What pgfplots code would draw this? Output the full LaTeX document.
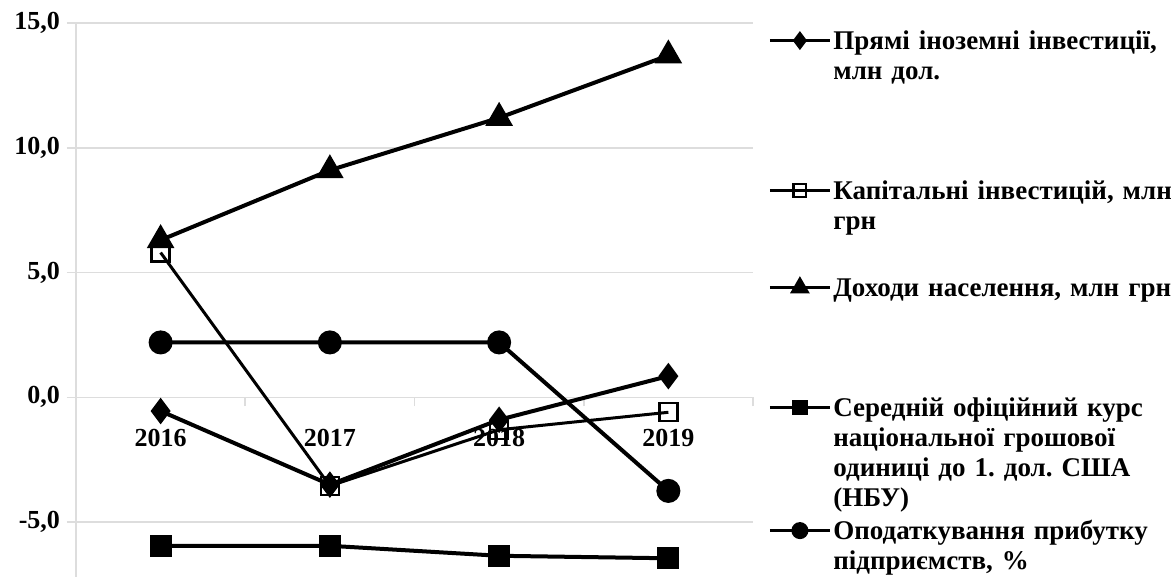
\documentclass[border=0pt]{standalone}
\usepackage{fontspec}
\setmainfont{Liberation Serif}
\usepackage{pgfplots}
\pgfplotsset{compat=1.18}
\definecolor{gridgray}{HTML}{DDDDDD}
\newcommand{\bodyfont}{\fontsize{13.5}{15}\selectfont\bfseries\frenchspacing}
\newcommand{\tickfont}{\fontsize{13}{15}\selectfont\bfseries}
\begin{document}
\begin{tikzpicture}[font=\bodyfont]
\begin{axis}[
    scale only axis,
    width=338.5pt, height=277pt,
    xmin=-0.5, xmax=3.5,
    ymin=-7.2, ymax=15,
    axis x line*=middle,
    axis y line*=left,
    axis line style={gridgray, line width=0.8pt},
    xtick={0,1,2,3},
    xticklabels={2016,2017,2018,2019},
    minor xtick={0.5,1.5,2.5,3.5},
    major x tick style={draw=none},
    minor x tick style={gridgray, line width=0.8pt},
    minor tick length=4.5pt,
    ytick={-5,0,5,10,15},
    ytick style={gridgray, line width=0.8pt},
    major tick length=4.5pt,
    tick align=outside,
    ymajorgrids,
    major grid style={gridgray, line width=0.8pt},
    tick label style={font=\tickfont},
    /pgf/number format/assume math mode=true,
    yticklabel style={/pgf/number format/.cd, fixed, fixed zerofill, precision=1, use comma},
    xticklabel style={anchor=north, yshift=-8pt},
    clip=false,
    every axis plot/.append style={black, line width=2pt, mark options={solid}},
    legend cell align=left,
    legend image code/.code={
        \draw[mark repeat=2, mark phase=2, line width=1.5pt]
        plot coordinates {(0pt,4.4pt) (15pt,4.4pt) (30pt,4.4pt)};
    },
    legend image post style={every mark/.append style={scale=0.7}},
    legend style={draw=none, fill=none, at={(rel axis cs:0,0)}, anchor=north west,
        xshift=346pt, yshift=274.5pt, inner sep=0pt, row sep=0pt, column sep=1pt,
        cells={anchor=base west},
        nodes={inner sep=0pt, text width=190pt, align=left, font=\bodyfont, text height=10.5pt}},
]
\addplot[mark=diamond*, mark size=5pt, mark options={fill=black}]
    coordinates {(0,-0.55) (1,-3.5) (2,-0.9) (3,0.85)};
\addlegendentry[text depth=64.5pt]{Прямі іноземні інвестиції,\\ млн дол.}
\addplot[mark=square, line width=1.5pt, mark size=4.5pt, mark options={fill=white, line width=1.2pt}]
    coordinates {(0,5.8) (1,-3.55) (2,-1.3) (3,-0.6)};
\addlegendentry[text depth=38pt]{Капітальні інвестицій, млн\\ грн}
\addplot[mark=triangle*, mark size=6pt, mark options={fill=black}]
    coordinates {(0,6.3) (1,9.1) (2,11.2) (3,13.7)};
\addlegendentry[text depth=49.5pt]{Доходи населення, млн грн}
\addplot[mark=square*, mark size=4.5pt, mark options={fill=black}]
    coordinates {(0,-5.95) (1,-5.95) (2,-6.35) (3,-6.45)};
\addlegendentry[text depth=51pt]{Середній офіційний курс\\ національної грошової\\ одиниці до 1. дол. США\\ (НБУ)}
\addplot[mark=*, mark size=5pt, mark options={fill=black}]
    coordinates {(0,2.2) (1,2.2) (2,2.2) (3,-3.75)};
\addlegendentry[text depth=19.5pt]{Оподаткування прибутку\\ підприємств, \%}
\end{axis}
\pgfresetboundingbox
\path (-38pt,0pt) rectangle (547.5pt,288.5pt);
\end{tikzpicture}
\end{document}
